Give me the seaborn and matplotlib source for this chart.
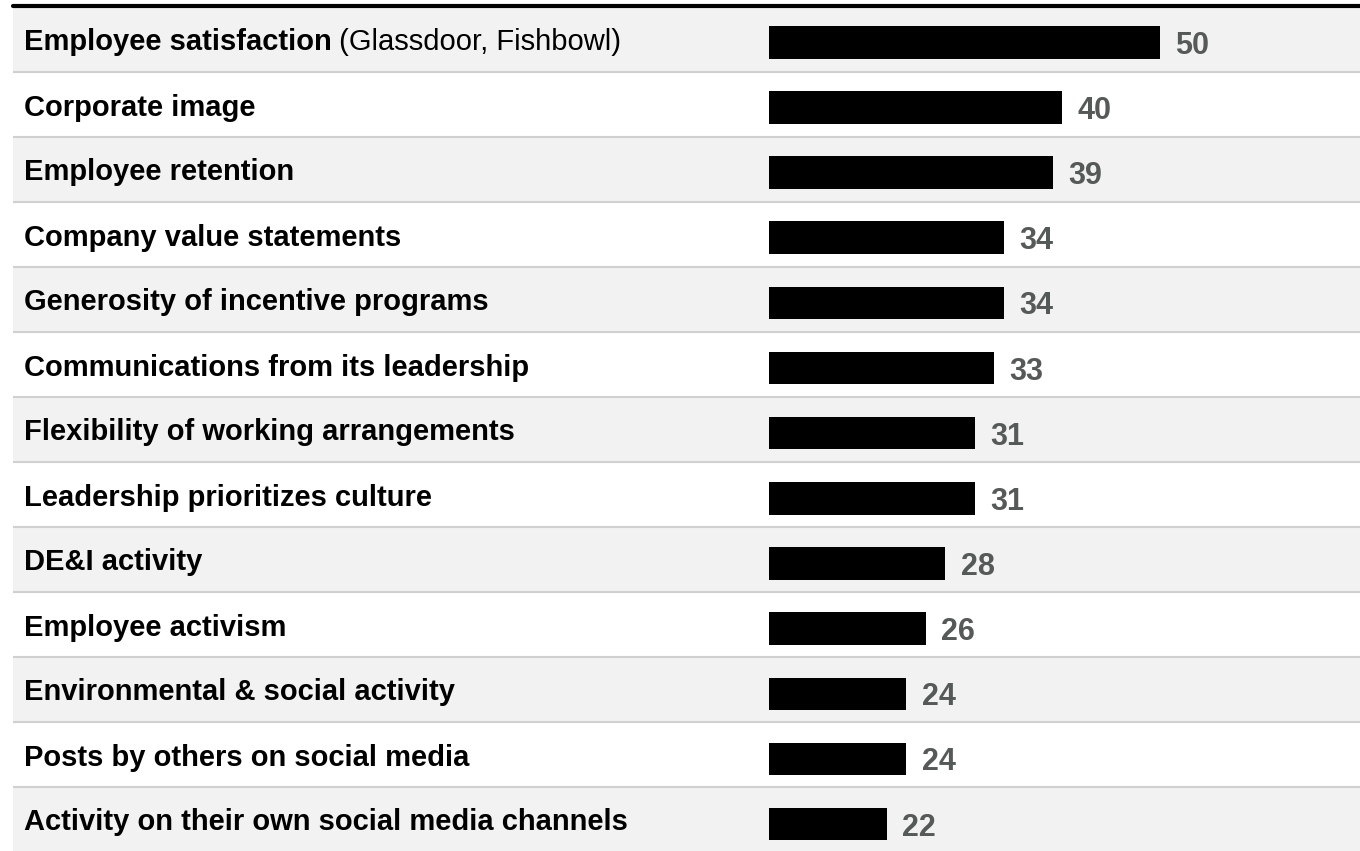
import matplotlib
matplotlib.use("Agg")
import matplotlib.pyplot as plt
import seaborn as sns
import pandas as pd

categories = [
    "Employee satisfaction",
    "Corporate image",
    "Employee retention",
    "Company value statements",
    "Generosity of incentive programs",
    "Communications from its leadership",
    "Flexibility of working arrangements",
    "Leadership prioritizes culture",
    "DE&I activity",
    "Employee activism",
    "Environmental & social activity",
    "Posts by others on social media",
    "Activity on their own social media channels",
]
values = [50, 40, 39, 34, 34, 33, 31, 31, 28, 26, 24, 24, 22]
first_suffix = " (Glassdoor, Fishbowl)"

sns.set_theme(style="white")
plt.rcParams["font.family"] = ["Liberation Sans", "DejaVu Sans"]

W, H = 1360, 851
n = len(categories)

# row band geometry (pixels from the top)
row_top, row_h = 7.0, 65.0
left_px = 13
# bar geometry
bar_px = 769
bar_c0, bar_step = 42.3, 65.15


def fig_rect(x0, top, bottom):
    return [x0 / W, 1 - bottom / H, 1 - x0 / W, (bottom - top) / H]


fig = plt.figure(figsize=(W / 100, H / 100), dpi=100)
fig.patch.set_facecolor("white")

# Background: striped rows, separators and labels
bg = fig.add_axes(fig_rect(left_px, row_top, row_top + n * row_h))
bg.set_xlim(0, 1)
bg.set_ylim(n - 0.5, -0.5)
bg.axis("off")
for i in range(n):
    if i % 2 == 0:
        bg.axhspan(i - 0.5, i + 0.5, color="#f2f2f2", lw=0, zorder=0)
    if i > 0:
        bg.axhline(i - 0.5, color="#d0d0d0", lw=1.5, zorder=1)

label_x = (23.5 - left_px) / (W - left_px)
label_size = 21
text_objs = []
for i, cat in enumerate(categories):
    t = bg.text(label_x, i, cat, fontsize=label_size, fontweight="bold",
                color="#000000", ha="left", va="center_baseline")
    text_objs.append(t)

# thick rule on top
fig.add_artist(plt.Line2D([left_px / W, 1], [1 - 5.5 / H, 1 - 5.5 / H],
                          color="black", lw=3.0, transform=fig.transFigure))

# Bars
ax = fig.add_axes(fig_rect(bar_px, bar_c0 - bar_step / 2,
                           bar_c0 + (n - 0.5) * bar_step))
df = pd.DataFrame({"category": categories, "value": values})
sns.barplot(data=df, x="value", y="category", order=categories, orient="h",
            color="black", width=0.5, saturation=1, ax=ax)
x0 = 9.9
scale = 9.75
ax.set_xlim(x0, x0 + (W - bar_px) / scale)
ax.set_ylim(n - 0.5, -0.5)
ax.patch.set_alpha(0)
ax.axis("off")
for p in ax.patches:
    p.set_edgecolor("none")

for i, v in enumerate(values):
    ax.annotate(f"{v}", xy=(v, i), xytext=(11, 0), textcoords="offset points",
                ha="left", va="center_baseline", fontsize=22, fontweight="bold",
                color="#555957")

# normal-weight suffix on the first label
fig.canvas.draw()
ext = text_objs[0].get_window_extent()
inv = bg.transData.inverted()
xs, _ = inv.transform((ext.x1, ext.y0))
bg.text(xs, 0, first_suffix, fontsize=label_size, fontweight="normal",
        color="#000000", ha="left", va="center_baseline")

fig.savefig("out.png", dpi=100)
